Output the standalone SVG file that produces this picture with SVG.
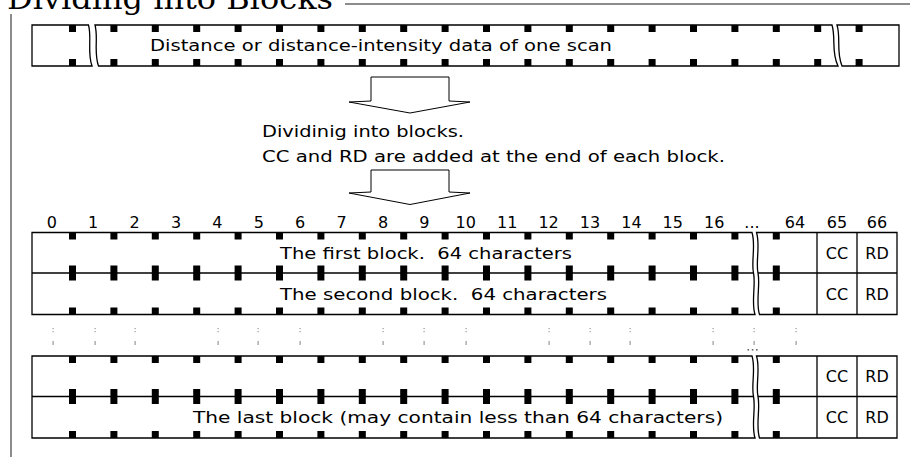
<svg xmlns="http://www.w3.org/2000/svg" xmlns:xlink="http://www.w3.org/1999/xlink" width="910" height="457" viewBox="0 0 910 457">
<style>
.t{font-family:"DejaVu Sans","Liberation Sans",sans-serif;font-size:16px;fill:#000;white-space:pre}
.m{text-anchor:middle}
.ttl{font-family:"DejaVu Serif","Liberation Serif",serif;font-size:30px;fill:#000}
.ol{fill:#fff;stroke:#000;stroke-width:1.3}
.ln{fill:none;stroke:#000;stroke-width:1.3}
.ar{fill:#fff;stroke:#000;stroke-width:1}
.dm{fill:#999}
</style>
<defs>
<rect id="sq" width="7" height="7" fill="#000"/>
<rect id="sqm" width="7" height="15" fill="#000"/>
<g id="vd"><rect x="-0.5" y="328" width="1.2" height="1.2" class="dm"/><rect x="-0.5" y="331" width="1.2" height="1.2" class="dm"/><rect x="-0.5" y="341" width="1.2" height="4" class="dm"/></g>
</defs>
<rect width="910" height="457" fill="#fff"/>
<g id="frame">
<path d="M11,457 V4 H912" fill="none" stroke="#8c8c8c" stroke-width="2"/>
<rect x="0" y="0" width="345" height="14" fill="#fff"/>
<text class="ttl" x="7" y="9" textLength="326" lengthAdjust="spacingAndGlyphs">Dividing into Blocks</text>
</g>
<g id="scan-bar">
<path class="ol" d="M88.5,25 H32 V66 H92 C87,52 92,38 88.5,25 Z"/>
<path class="ol" d="M95,25 H832 C836,38 831,52 838,66 H98.5 C93.5,52 98.5,38 95,25 Z"/>
<path class="ol" d="M837,25 H899 V66 H842 C836,52 841,38 837,25 Z"/>
<use href="#sq" x="69" y="25"/><use href="#sq" x="110.4" y="25"/><use href="#sq" x="151.8" y="25"/><use href="#sq" x="193.2" y="25"/><use href="#sq" x="234.6" y="25"/><use href="#sq" x="276" y="25"/><use href="#sq" x="317.4" y="25"/><use href="#sq" x="358.8" y="25"/><use href="#sq" x="400.2" y="25"/><use href="#sq" x="441.6" y="25"/><use href="#sq" x="483" y="25"/><use href="#sq" x="524.4" y="25"/><use href="#sq" x="565.8" y="25"/><use href="#sq" x="607.2" y="25"/><use href="#sq" x="648.6" y="25"/><use href="#sq" x="690" y="25"/><use href="#sq" x="731.4" y="25"/><use href="#sq" x="772.8" y="25"/><use href="#sq" x="814.2" y="25"/><use href="#sq" x="855.6" y="25"/>
<use href="#sq" x="69" y="59"/><use href="#sq" x="110.4" y="59"/><use href="#sq" x="151.8" y="59"/><use href="#sq" x="193.2" y="59"/><use href="#sq" x="234.6" y="59"/><use href="#sq" x="276" y="59"/><use href="#sq" x="317.4" y="59"/><use href="#sq" x="358.8" y="59"/><use href="#sq" x="400.2" y="59"/><use href="#sq" x="441.6" y="59"/><use href="#sq" x="483" y="59"/><use href="#sq" x="524.4" y="59"/><use href="#sq" x="565.8" y="59"/><use href="#sq" x="607.2" y="59"/><use href="#sq" x="648.6" y="59"/><use href="#sq" x="690" y="59"/><use href="#sq" x="731.4" y="59"/><use href="#sq" x="772.8" y="59"/><use href="#sq" x="814.2" y="59"/><use href="#sq" x="855.6" y="59"/>
<text class="t" x="150" y="51" textLength="462" lengthAdjust="spacingAndGlyphs">Distance or distance-intensity data of one scan</text>
</g>
<g id="connectors">
<polygon class="ar" points="371,77 449,77 449,101 470,102 410,113 349,102 371,101"/>
<polygon class="ar" points="371,170 449,170 449,192 470,193 410,204.5 349,193 371,192"/>
</g>
<g id="caption">
<text class="t" x="262" y="137" textLength="202" lengthAdjust="spacingAndGlyphs">Dividinig into blocks.</text>
<text class="t" x="262" y="162" textLength="463" lengthAdjust="spacingAndGlyphs">CC and RD are added at the end of each block.</text>
</g>
<g id="index-row">
<text class="t m" x="51.8" y="228">0</text><text class="t m" x="93.2" y="228">1</text><text class="t m" x="134.6" y="228">2</text><text class="t m" x="176" y="228">3</text><text class="t m" x="217.4" y="228">4</text><text class="t m" x="258.8" y="228">5</text><text class="t m" x="300.2" y="228">6</text><text class="t m" x="341.6" y="228">7</text><text class="t m" x="383" y="228">8</text><text class="t m" x="424.4" y="228">9</text><text class="t m" x="465.8" y="228">10</text><text class="t m" x="507.2" y="228">11</text><text class="t m" x="548.6" y="228">12</text><text class="t m" x="590" y="228">13</text><text class="t m" x="631.4" y="228">14</text><text class="t m" x="672.8" y="228">15</text><text class="t m" x="714.2" y="228">16</text><text class="t m" x="752" y="228">...</text><text class="t m" x="795" y="228">64</text><text class="t m" x="837" y="228">65</text><text class="t m" x="877" y="228">66</text>
</g>
<g id="blockpair-frame">
<path class="ol" d="M32,232.5 H752 C756,245 751,262 753.5,273 C756,285 751,302 755,314.5 H32 Z"/>
<path class="ln" d="M32,273 H753.5"/>
<path class="ol" d="M756.5,232.5 H897 V314.5 H759.5 C755.5,302 760.5,285 758,273 C755.5,262 760.5,245 756.5,232.5 Z"/>
<path class="ln" d="M758,273 H897 M817,232.5 V314.5 M857,232.5 V314.5"/>
<use href="#sq" x="69" y="232.5"/><use href="#sq" x="110.4" y="232.5"/><use href="#sq" x="151.8" y="232.5"/><use href="#sq" x="193.2" y="232.5"/><use href="#sq" x="234.6" y="232.5"/><use href="#sq" x="276" y="232.5"/><use href="#sq" x="317.4" y="232.5"/><use href="#sq" x="358.8" y="232.5"/><use href="#sq" x="400.2" y="232.5"/><use href="#sq" x="441.6" y="232.5"/><use href="#sq" x="483" y="232.5"/><use href="#sq" x="524.4" y="232.5"/><use href="#sq" x="565.8" y="232.5"/><use href="#sq" x="607.2" y="232.5"/><use href="#sq" x="648.6" y="232.5"/><use href="#sq" x="690" y="232.5"/><use href="#sq" x="731.4" y="232.5"/><use href="#sq" x="772.8" y="232.5"/>
<use href="#sqm" x="69" y="265.5"/><use href="#sqm" x="110.4" y="265.5"/><use href="#sqm" x="151.8" y="265.5"/><use href="#sqm" x="193.2" y="265.5"/><use href="#sqm" x="234.6" y="265.5"/><use href="#sqm" x="276" y="265.5"/><use href="#sqm" x="317.4" y="265.5"/><use href="#sqm" x="358.8" y="265.5"/><use href="#sqm" x="400.2" y="265.5"/><use href="#sqm" x="441.6" y="265.5"/><use href="#sqm" x="483" y="265.5"/><use href="#sqm" x="524.4" y="265.5"/><use href="#sqm" x="565.8" y="265.5"/><use href="#sqm" x="607.2" y="265.5"/><use href="#sqm" x="648.6" y="265.5"/><use href="#sqm" x="690" y="265.5"/><use href="#sqm" x="731.4" y="265.5"/><use href="#sqm" x="772.8" y="265.5"/>
<use href="#sq" x="69" y="307.5"/><use href="#sq" x="110.4" y="307.5"/><use href="#sq" x="151.8" y="307.5"/><use href="#sq" x="193.2" y="307.5"/><use href="#sq" x="234.6" y="307.5"/><use href="#sq" x="276" y="307.5"/><use href="#sq" x="317.4" y="307.5"/><use href="#sq" x="358.8" y="307.5"/><use href="#sq" x="400.2" y="307.5"/><use href="#sq" x="441.6" y="307.5"/><use href="#sq" x="483" y="307.5"/><use href="#sq" x="524.4" y="307.5"/><use href="#sq" x="565.8" y="307.5"/><use href="#sq" x="607.2" y="307.5"/><use href="#sq" x="648.6" y="307.5"/><use href="#sq" x="690" y="307.5"/><use href="#sq" x="731.4" y="307.5"/><use href="#sq" x="772.8" y="307.5"/>
</g>
<g id="block-first">
<text class="t" x="280" y="258.5" textLength="292" lengthAdjust="spacingAndGlyphs">The first block.  64 characters</text>
<text class="t m" x="837" y="258.5">CC</text><text class="t m" x="877" y="258.5">RD</text>
</g>
<g id="block-second">
<text class="t" x="280" y="299.5" textLength="327" lengthAdjust="spacingAndGlyphs">The second block.  64 characters</text>
<text class="t m" x="837" y="299.5">CC</text><text class="t m" x="877" y="299.5">RD</text>
</g>
<g id="ellipsis-row">
<use href="#vd" x="53"/><use href="#vd" x="95"/><use href="#vd" x="135"/><use href="#vd" x="218"/><use href="#vd" x="258"/><use href="#vd" x="300"/><use href="#vd" x="383"/><use href="#vd" x="424"/><use href="#vd" x="466"/><use href="#vd" x="549"/><use href="#vd" x="590"/><use href="#vd" x="630"/><use href="#vd" x="713"/><use href="#vd" x="754"/><use href="#vd" x="796"/>
<rect x="747.5" y="349" width="1.6" height="1.6" fill="#666"/><rect x="751.8" y="349" width="1.6" height="1.6" fill="#666"/><rect x="756" y="349" width="1.6" height="1.6" fill="#666"/>
</g>
<g id="blockpair-last-frame" transform="translate(0,123.5)">
<path class="ol" d="M32,232.5 H752 C756,245 751,262 753.5,273 C756,285 751,302 755,314.5 H32 Z"/>
<path class="ln" d="M32,273 H753.5"/>
<path class="ol" d="M756.5,232.5 H897 V314.5 H759.5 C755.5,302 760.5,285 758,273 C755.5,262 760.5,245 756.5,232.5 Z"/>
<path class="ln" d="M758,273 H897 M817,232.5 V314.5 M857,232.5 V314.5"/>
<use href="#sq" x="69" y="232.5"/><use href="#sq" x="110.4" y="232.5"/><use href="#sq" x="151.8" y="232.5"/><use href="#sq" x="193.2" y="232.5"/><use href="#sq" x="234.6" y="232.5"/><use href="#sq" x="276" y="232.5"/><use href="#sq" x="317.4" y="232.5"/><use href="#sq" x="358.8" y="232.5"/><use href="#sq" x="400.2" y="232.5"/><use href="#sq" x="441.6" y="232.5"/><use href="#sq" x="483" y="232.5"/><use href="#sq" x="524.4" y="232.5"/><use href="#sq" x="565.8" y="232.5"/><use href="#sq" x="607.2" y="232.5"/><use href="#sq" x="648.6" y="232.5"/><use href="#sq" x="690" y="232.5"/><use href="#sq" x="731.4" y="232.5"/><use href="#sq" x="772.8" y="232.5"/>
<use href="#sqm" x="69" y="265.5"/><use href="#sqm" x="110.4" y="265.5"/><use href="#sqm" x="151.8" y="265.5"/><use href="#sqm" x="193.2" y="265.5"/><use href="#sqm" x="234.6" y="265.5"/><use href="#sqm" x="276" y="265.5"/><use href="#sqm" x="317.4" y="265.5"/><use href="#sqm" x="358.8" y="265.5"/><use href="#sqm" x="400.2" y="265.5"/><use href="#sqm" x="441.6" y="265.5"/><use href="#sqm" x="483" y="265.5"/><use href="#sqm" x="524.4" y="265.5"/><use href="#sqm" x="565.8" y="265.5"/><use href="#sqm" x="607.2" y="265.5"/><use href="#sqm" x="648.6" y="265.5"/><use href="#sqm" x="690" y="265.5"/><use href="#sqm" x="731.4" y="265.5"/><use href="#sqm" x="772.8" y="265.5"/>
<use href="#sq" x="69" y="307.5"/><use href="#sq" x="110.4" y="307.5"/><use href="#sq" x="151.8" y="307.5"/><use href="#sq" x="193.2" y="307.5"/><use href="#sq" x="234.6" y="307.5"/><use href="#sq" x="276" y="307.5"/><use href="#sq" x="317.4" y="307.5"/><use href="#sq" x="358.8" y="307.5"/><use href="#sq" x="400.2" y="307.5"/><use href="#sq" x="441.6" y="307.5"/><use href="#sq" x="483" y="307.5"/><use href="#sq" x="524.4" y="307.5"/><use href="#sq" x="565.8" y="307.5"/><use href="#sq" x="607.2" y="307.5"/><use href="#sq" x="648.6" y="307.5"/><use href="#sq" x="690" y="307.5"/><use href="#sq" x="731.4" y="307.5"/><use href="#sq" x="772.8" y="307.5"/>
</g>
<g id="block-penultimate">
<text class="t m" x="837" y="382">CC</text><text class="t m" x="877" y="382">RD</text>
</g>
<g id="block-last">
<text class="t" x="193" y="423" textLength="530" lengthAdjust="spacingAndGlyphs">The last block (may contain less than 64 characters)</text>
<text class="t m" x="837" y="423">CC</text><text class="t m" x="877" y="423">RD</text>
</g>
</svg>
